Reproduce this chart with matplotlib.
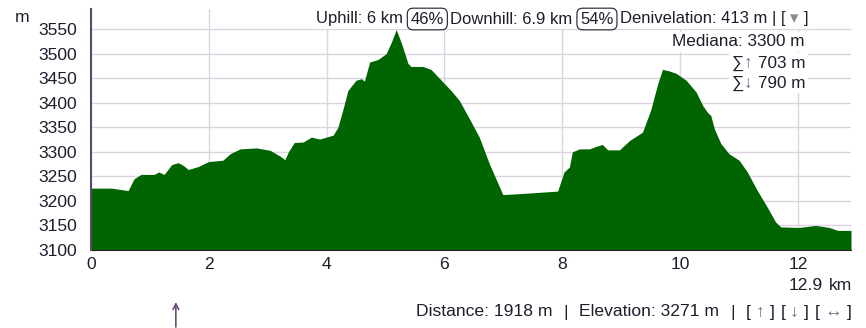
import matplotlib
matplotlib.use("Agg")
import matplotlib.pyplot as plt
from matplotlib.transforms import blended_transform_factory

# elevation profile
distance_km = [0.00, 0.35, 0.63, 0.73, 0.85, 1.07, 1.15, 1.24, 1.37, 1.48,
               1.57, 1.65, 1.82, 1.99, 2.24, 2.36, 2.53, 2.81, 3.04, 3.20,
               3.29, 3.35, 3.45, 3.60, 3.74, 3.88, 4.11, 4.19, 4.28, 4.36,
               4.50, 4.59, 4.64, 4.73, 4.87, 5.01, 5.10, 5.18, 5.27, 5.38,
               5.43, 5.63, 5.77, 5.92, 6.11, 6.25, 6.42, 6.59, 6.76, 6.99,
               7.16, 7.55, 7.92, 8.03, 8.12, 8.17, 8.29, 8.46, 8.57, 8.68,
               8.77, 8.97, 9.14, 9.36, 9.50, 9.62, 9.70, 9.81, 9.93, 10.10,
               10.27, 10.38, 10.46, 10.52, 10.58, 10.69, 10.83, 11.00, 11.14, 11.31,
               11.48, 11.62, 11.71, 12.02, 12.30, 12.53, 12.67, 12.90]
elevation_m = [3226, 3226, 3221, 3245, 3254, 3254, 3259, 3254, 3274, 3278,
               3272, 3264, 3270, 3280, 3283, 3296, 3306, 3308, 3303, 3292,
               3284, 3300, 3319, 3320, 3330, 3326, 3334, 3350, 3388, 3425,
               3446, 3449, 3444, 3483, 3488, 3500, 3524, 3549, 3521, 3480,
               3474, 3474, 3468, 3449, 3425, 3405, 3368, 3330, 3276, 3213,
               3214, 3217, 3220, 3259, 3269, 3300, 3306, 3306, 3311, 3315,
               3304, 3304, 3323, 3340, 3385, 3439, 3468, 3465, 3460, 3446,
               3422, 3395, 3381, 3374, 3347, 3317, 3296, 3283, 3259, 3221,
               3187, 3157, 3147, 3146, 3150, 3146, 3140, 3140]

x_ticks = [0, 2, 4, 6, 8, 10, 12]
y_ticks = [3100, 3150, 3200, 3250, 3300, 3350, 3400, 3450, 3500, 3550]
total_km = 12.9
cursor_km = 1.44

uphill = "Uphill: 6 km"
uphill_pct = "46%"
downhill = "Downhill: 6.9 km"
downhill_pct = "54%"
deniv = "Denivelation: 413 m | ["
median = "Mediana: 3300 m"
sum_up = "703 m"
sum_down = "790 m"
distance = "Distance: 1918 m"
elevation = "Elevation: 3271 m"

TEXT = "#231a2b"
ARROW = "#7a6488"
GRID = "#ddd3e0"
FS = 12.6
plt.rcParams["font.family"] = ["Liberation Sans", "DejaVu Sans"]

W, H = 866, 328
fig = plt.figure(figsize=(W / 100, H / 100), dpi=100)
ax = fig.add_axes([91 / W, 1 - 250 / H, 760 / W, 241 / H])

ax.fill_between(distance_km, elevation_m, 3100, color="#006400", lw=0, zorder=2)
ax.set_xlim(0, total_km)
ax.set_ylim(3100, 3591)
ax.set_xticks(x_ticks)
ax.set_yticks(y_ticks)
ax.grid(True, color=GRID, lw=1, zorder=0)
ax.set_axisbelow(True)
ax.tick_params(length=0, labelsize=FS, labelcolor=TEXT)
ax.tick_params(axis="y", pad=10)
ax.tick_params(axis="x", pad=5)
for s in ["top", "right"]:
    ax.spines[s].set_visible(False)
ax.spines["left"].set_color("#5c4a66")
ax.spines["left"].set_linewidth(1.5)
ax.spines["left"].set_zorder(3)
ax.spines["bottom"].set_color("#222222")

fig.text(15 / W, 1 - 18 / H, "m", fontsize=FS, color=TEXT, va="center")

r = fig.canvas.get_renderer()


def text_run(x_px, y_px, pieces, size=FS):
    # pieces: (text, colour, boxed, gap in px before it); laid out right to left
    x = x_px
    for s, color, boxed, gap in reversed(pieces):
        t = fig.text(x / W, 1 - y_px / H, s, ha="right", va="center",
                     fontsize=size, color=color, zorder=5)
        if boxed:
            t.set_bbox(dict(boxstyle="round,pad=0.2,rounding_size=0.35",
                            fc="white", ec=TEXT, lw=0.8))
        else:
            t.set_bbox(dict(boxstyle="square,pad=0.15", fc="white", ec="none"))
        x -= t.get_window_extent(r).width + gap + (3 if boxed else 0)


text_run(808, 19, [(uphill, TEXT, False, 0), (uphill_pct, TEXT, True, 5),
                   (downhill, TEXT, False, 6), (downhill_pct, TEXT, True, 5),
                   (deniv, TEXT, False, 6), ("▾", "#8a8a8a", False, 5),
                   ("]", TEXT, False, 5)], size=12)
text_run(805, 42, [(median, TEXT, False, 0)], size=12.3)
text_run(805, 63, [("∑", TEXT, False, 0), ("↑", ARROW, False, 0), (sum_up, TEXT, False, 5)], size=12.3)
text_run(805, 83, [("∑", TEXT, False, 0), ("↓", ARROW, False, 0), (sum_down, TEXT, False, 5)], size=12.3)

text_run(852, 286, [(f"{total_km}", TEXT, False, 0), ("km", TEXT, False, 6)])
text_run(852, 312, [(distance, TEXT, False, 0), ("|", TEXT, False, 11),
                    (elevation, TEXT, False, 11), ("|", TEXT, False, 11),
                    ("[", TEXT, False, 11), ("↑", ARROW, False, 5), ("]", TEXT, False, 5),
                    ("[", TEXT, False, 6), ("↓", ARROW, False, 5), ("]", TEXT, False, 5),
                    ("[", TEXT, False, 6), ("↔", ARROW, False, 5), ("]", TEXT, False, 5)])

blend = blended_transform_factory(ax.transData, fig.transFigure)
ax.annotate("", xy=(cursor_km, 1 - 302 / H), xytext=(cursor_km, 1 - 327 / H),
            xycoords=blend, textcoords=blend, annotation_clip=False,
            arrowprops=dict(arrowstyle="->", color="#6b4f7a", lw=1.2,
                            shrinkA=0, shrinkB=0))

fig.savefig("out.png", dpi=100)
